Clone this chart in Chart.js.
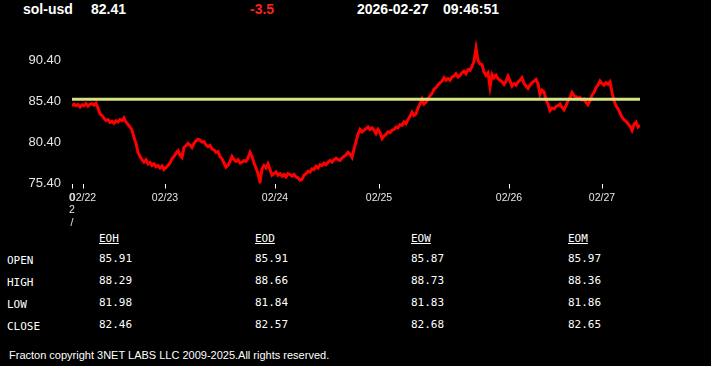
<!DOCTYPE html>
<html>
<head>
<meta charset="utf-8">
<script src="https://cdn.jsdelivr.net/npm/chart.js@4/dist/chart.umd.min.js"></script>
<style>
  body { margin: 0; background: #000; width: 711px; height: 366px; overflow: hidden; position: relative; }
  .hd { position: absolute; top: 2px; font: bold 14px "Liberation Sans", Arial, sans-serif; line-height: 14px; color: #fff; white-space: nowrap; }
  #chart { position: absolute; left: 0; top: 1px; }
  .tb { position: absolute; font: 11px "DejaVu Sans Mono", monospace; line-height: 11px; color: #fff; white-space: nowrap; }
  .tb.h { text-decoration: underline; }
  #foot { position: absolute; left: 9px; top: 350px; font: 11px "Liberation Sans", Arial, sans-serif; line-height: 11px; color: #fff; white-space: nowrap; }
</style>
</head>
<body>
<div class="hd" style="left:23px">sol-usd</div>
<div class="hd" style="left:91px">82.41</div>
<div class="hd" style="left:250px;color:#ff2020">-3.5</div>
<div class="hd" style="left:357px">2026-02-27</div>
<div class="hd" style="left:443px">09:46:51</div>

<canvas id="chart" width="711" height="230"></canvas>

<div id="table"></div>
<div id="foot">Fracton copyright 3NET LABS LLC 2009-2025.All rights reserved.</div>

<script>
// price samples, oldest first
const prices = [
  84.85, 85.1, 84.9, 85.05, 84.75, 85.0, 84.9, 85.15, 84.85, 85.05,
  85.15, 84.95, 85.2, 84.6, 83.9, 83.7, 83.35, 83.1, 83.2, 82.85,
  83.0, 82.75, 83.05, 82.9, 83.2, 83.05, 83.4, 82.9, 82.6, 82.3,
  81.9, 81.0, 80.3, 79.2, 78.7, 78.3, 78.0, 78.3, 77.8, 77.95,
  77.6, 77.8, 77.45, 77.6, 77.3, 77.55, 77.1, 77.35, 77.6, 77.9,
  78.4, 78.7, 79.1, 79.4, 78.9, 78.6, 79.8, 80.0, 80.3, 80.1,
  79.8, 80.3, 80.6, 80.8, 80.7, 80.45, 80.5, 80.1, 79.9, 80.05,
  79.6, 79.5, 79.2, 79.3, 78.7, 78.4, 77.9, 77.4, 77.6, 78.1,
  78.7, 78.3, 78.1, 78.3, 77.9, 78.0, 78.2, 78.1, 78.5, 79.2,
  78.7, 77.9, 77.3, 76.6, 75.6, 77.2, 77.6, 77.3, 77.8, 77.1,
  76.4, 76.6, 76.8, 76.4, 76.6, 76.3, 76.5, 76.2, 76.6, 76.5,
  76.3, 76.5, 76.2, 76.1, 75.8, 75.9, 76.4, 76.6, 76.9, 76.8,
  77.2, 77.1, 77.5, 77.3, 77.7, 77.6, 77.9, 77.7, 78.0, 78.2,
  78.0, 78.3, 78.5, 78.3, 78.2, 78.5, 78.7, 78.9, 79.2, 79.0,
  78.6, 79.6, 80.5, 81.4, 82.0, 81.7, 81.9, 82.1, 82.3, 82.0,
  82.2, 81.9, 81.5, 82.0, 81.6, 80.9, 81.2, 81.4, 81.7, 81.6,
  81.9, 82.0, 82.3, 82.2, 82.6, 82.5, 82.9, 82.7, 83.2, 83.6,
  84.1, 83.7, 83.9, 84.6, 85.1, 85.7, 85.1, 85.3, 85.7, 86.1,
  86.4, 86.9, 87.1, 87.4, 87.7, 87.9, 88.3, 88.0, 88.2, 88.0,
  88.4, 88.5, 88.8, 88.4, 88.6, 88.9, 89.1, 88.8, 89.3, 89.2,
  89.7, 90.3, 91.9, 90.4, 90.0, 89.9, 89.0, 88.6, 88.9, 87.2,
  88.7, 88.3, 88.6, 88.2, 88.0, 87.8, 87.5, 87.9, 88.5, 87.9,
  87.3, 87.6, 87.4, 87.8, 88.0, 88.3, 87.6, 87.3, 87.0, 87.4,
  87.7, 87.9, 88.1, 87.6, 86.3, 86.8, 86.6, 85.6, 85.1, 84.3,
  84.6, 84.5, 84.8, 84.9, 85.1, 84.7, 84.4, 84.9, 85.5, 85.9,
  86.5, 86.1, 86.0, 85.8, 85.9, 85.6, 85.7, 85.3, 85.0, 85.5,
  86.2, 86.5, 87.1, 87.4, 87.9, 87.6, 87.4, 87.7, 87.5, 87.8,
  86.5, 85.5, 84.9, 84.5, 84.0, 83.5, 83.2, 83.0, 82.7, 82.4,
  81.9, 82.6, 82.9, 82.3, 82.5
];
const refLevel = 85.68;

// day ticks (sample index where the day starts)
const tickIndex = [0, 5.5, 46.5, 101.5, 153.5, 218.5, 265];
const tickLabels = [["0", "2", "/"], "02/22", "02/23", "02/24", "02/25", "02/26", "02/27"];
const yTicks = [75.4, 80.4, 85.4, 90.4];

// summary table
const rowNames = ["OPEN", "HIGH", "LOW", "CLOSE"];
const colNames = ["EOH", "EOD", "EOW", "EOM"];
const eoh = ["85.91", "88.29", "81.98", "82.46"];
const eod = ["85.91", "88.66", "81.84", "82.57"];
const eow = ["85.87", "88.73", "81.83", "82.68"];
const eom = ["85.97", "88.36", "81.86", "82.65"];

const table = document.getElementById("table");
const colX = [99, 255, 411, 568];
const rowY = [253, 275, 297, 319];
const cols = [eoh, eod, eow, eom];
colNames.forEach(function (name, c) {
  const d = document.createElement("div");
  d.className = "tb h";
  d.style.left = colX[c] + "px";
  d.style.top = "233px";
  d.textContent = name;
  table.appendChild(d);
  cols[c].forEach(function (val, r) {
    const v = document.createElement("div");
    v.className = "tb";
    v.style.left = colX[c] + "px";
    v.style.top = rowY[r] + "px";
    v.textContent = val;
    table.appendChild(v);
  });
});
rowNames.forEach(function (name, r) {
  const d = document.createElement("div");
  d.className = "tb";
  d.style.left = "7px";
  d.style.top = rowY[r] + 2 + "px";
  d.textContent = name;
  table.appendChild(d);
});

const ctx = document.getElementById("chart").getContext("2d");
const chart = new Chart(ctx, {
  type: "line",
  data: {
    datasets: [
      {
        data: prices.map((v, i) => ({ x: i, y: refLevel })),
        borderColor: "#d6e282",
        borderWidth: 3,
        pointRadius: 0,
      },
      {
        data: prices.map((v, i) => ({ x: i, y: v })),
        borderColor: "#ff0000",
        borderWidth: 3,
        pointRadius: 0,
        tension: 0,
      },
    ],
  },
  options: {
    responsive: false,
    animation: false,
    devicePixelRatio: 1,
    layout: { padding: { top: 35, right: 71, left: 0, bottom: 0 } },
    plugins: { legend: { display: false }, tooltip: { enabled: false } },
    scales: {
      x: {
        type: "linear",
        min: 0,
        max: prices.length - 1,
        afterBuildTicks: (s) => { s.ticks = tickIndex.map((v) => ({ value: v })); },
        afterFit: (s) => { s.height = 47.5; },
        border: { display: false },
        grid: { drawOnChartArea: false, drawTicks: true, tickLength: 5, color: "#ffffff", lineWidth: 1 },
        ticks: {
          autoSkip: false,
          maxRotation: 0,
          padding: 3,
          color: "#e6e6e6",
          font: { family: "Liberation Sans", size: 10.5 },
          callback: (v, i) => tickLabels[i],
        },
      },
      y: {
        min: 75.4,
        max: 93.4,
        afterBuildTicks: (s) => { s.ticks = yTicks.map((v) => ({ value: v })); },
        afterFit: (s) => { s.width = 72; },
        border: { display: false },
        grid: { display: false, drawTicks: false },
        ticks: {
          padding: 11,
          color: "#e6e6e6",
          font: { family: "Liberation Sans", size: 13 },
          callback: (v) => v.toFixed(2),
        },
      },
    },
  },
});
</script>
</body>
</html>
